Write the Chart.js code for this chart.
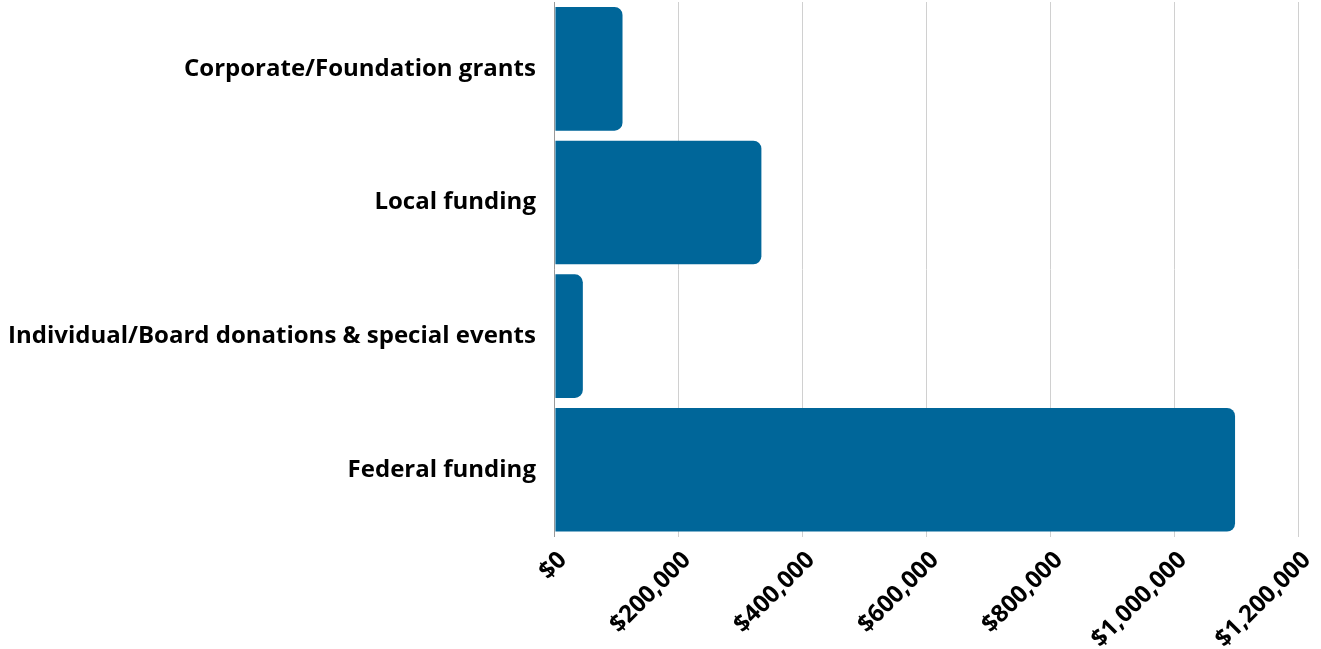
<!DOCTYPE html>
<html><head><meta charset="utf-8">
<script src="https://cdn.jsdelivr.net/npm/chart.js@4/dist/chart.umd.min.js"></script>
<style>html,body{margin:0;padding:0;background:#fff}#wrap{width:1321px;height:649px;position:relative}</style>
</head><body><div id="wrap"><canvas id="c"></canvas></div>
<script>
const categories = ["Corporate/Foundation grants", "Local funding", "Individual/Board donations & special events", "Federal funding"];
const amounts = [109000, 333000, 45000, 1097000];
const xMin = 0;
const xMax = 1200000;
const xStep = 200000;

const fontFamily = "'Open Sans', 'Noto Sans', sans-serif";

new Chart(document.getElementById('c'), {
  type: 'bar',
  data: {
    labels: categories,
    datasets: [{
      data: amounts,
      backgroundColor: '#006699',
      borderRadius: 8,
      borderSkipped: 'start',
      barPercentage: 0.925,
      categoryPercentage: 1
    }]
  },
  options: {
    indexAxis: 'y',
    responsive: true,
    maintainAspectRatio: false,
    animation: false,
    layout: { padding: { top: 2, right: 22, left: 8, bottom: -14 } },
    plugins: { legend: { display: false }, tooltip: { enabled: false } },
    scales: {
      x: {
        min: xMin, max: xMax,
        ticks: {
          stepSize: xStep,
          minRotation: 45, maxRotation: 45,
          color: '#000',
          font: { family: fontFamily, size: 24, weight: 'bold', lineHeight: 0.3 },
          padding: 17,
          labelOffset: 8,
          callback: v => '$' + Number(v).toLocaleString('en-US')
        },
        grid: { color: '#d0d0d0', drawTicks: false },
        border: { display: false }
      },
      y: {
        ticks: {
          color: '#000',
          font: { family: fontFamily, size: 24, weight: 'bold', lineHeight: 0.1 },
          padding: 0
        },
        grid: { display: true, color: 'rgba(0,0,0,0)', drawOnChartArea: false, drawTicks: true, tickLength: 19, tickColor: 'rgba(0,0,0,0)' },
        border: { display: true, color: '#999' }
      }
    }
  }
});
</script>
</body></html>
